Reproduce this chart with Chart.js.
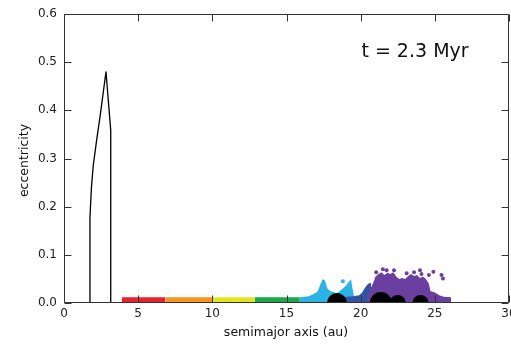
<!DOCTYPE html>
<html>
<head>
<meta charset="utf-8">
<script src="https://cdn.jsdelivr.net/npm/chart.js@4.4.1/dist/chart.umd.min.js"></script>
<style>
  html, body { margin: 0; padding: 0; background: #fff; }
</style>
</head>
<body>
<canvas id="grafico" width="511" height="345"></canvas>
<script>
// ticks
const xTicks = [0, 5, 10, 15, 20, 25, 30];
const yTicks = [0.0, 0.1, 0.2, 0.3, 0.4, 0.5, 0.6];

// curva negra (a, e)
const curvaA = [1.75, 1.75, 1.85, 1.97, 2.2, 2.43, 2.83, 3.15, 3.15];
const curvaE = [0, 0.178, 0.24, 0.285, 0.338, 0.387, 0.48, 0.359, 0];

// bandas de particulas: borde superior de cada nube
const rojoA = [3.89, 3.89, 6.83, 6.83];
const rojoE = [0, 0.012, 0.012, 0];
const naranjaA = [6.83, 6.83, 10.02, 10.02];
const naranjaE = [0, 0.012, 0.012, 0];
const amarilloA = [10.02, 10.02, 12.87, 12.87];
const amarilloE = [0, 0.012, 0.012, 0];
const verdeA = [12.87, 12.87, 15.9, 15.9];
const verdeE = [0, 0.012, 0.012, 0];
const celesteA = [15.9, 15.9, 16.5, 16.8, 17.1, 17.3, 17.45, 17.6, 17.75, 17.95, 18.4, 18.8, 19.0, 19.2, 19.35, 19.45, 19.55, 19.55];
const celesteE = [0, 0.012, 0.014, 0.018, 0.024, 0.04, 0.05, 0.046, 0.03, 0.025, 0.02, 0.03, 0.036, 0.044, 0.049, 0.03, 0.014, 0];
const azulA = [18.6, 18.6, 19.5, 19.9, 20.1, 20.3, 20.5, 20.7, 20.7];
const azulE = [0, 0.012, 0.014, 0.016, 0.022, 0.032, 0.04, 0.042, 0];
const moradoA = [20.5, 20.5, 20.7, 20.9, 21.0, 21.2, 21.4, 21.6, 21.8, 22.0, 22.2, 22.4, 22.6, 22.8, 23.0, 23.2, 23.4, 23.6, 23.8, 24.0, 24.2, 24.4, 24.6, 24.7, 25.0, 25.3, 25.6, 26.1, 26.1];
const moradoE = [0, 0.015, 0.032, 0.046, 0.055, 0.06, 0.064, 0.058, 0.063, 0.06, 0.064, 0.055, 0.05, 0.052, 0.05, 0.056, 0.06, 0.056, 0.058, 0.052, 0.055, 0.05, 0.04, 0.025, 0.022, 0.016, 0.013, 0.012, 0];

// particulas sueltas
const puntosMoradoA = [21.05, 21.5, 21.75, 22.25, 23.1, 23.6, 24.0, 24.1, 24.9, 25.45, 25.55, 24.6];
const puntosMoradoE = [0.064, 0.07, 0.068, 0.068, 0.062, 0.064, 0.068, 0.06, 0.065, 0.058, 0.051, 0.058];
const puntosCelesteA = [18.8];
const puntosCelesteE = [0.045];

// planetas
const planetasA = [18.4, 21.36, 22.5, 24.04];
const planetasE = [0, 0, 0, 0];

const etiquetaTiempo = "t = 2.3 Myr";
const tituloX = "semimajor axis (au)";
const tituloY = "eccentricity";

function pares(xs, ys) {
  return xs.map((x, i) => ({ x: x, y: ys[i] }));
}

function banda(xs, ys, color, orden) {
  return {
    data: pares(xs, ys),
    showLine: true,
    fill: "origin",
    borderWidth: 0,
    borderColor: color,
    backgroundColor: color,
    pointRadius: 0,
    order: orden
  };
}

const fuente = "'DejaVu Sans', sans-serif";

const marcoPlugin = {
  id: "marco",
  afterDatasetsDraw(chart) {
    const ctx = chart.ctx;
    const area = chart.chartArea;
    const sx = chart.scales.x;
    const sy = chart.scales.y;
    const izq = Math.round(area.left) + 0.5;
    const der = Math.round(area.right) - 0.5;
    const arr = Math.round(area.top) + 0.5;
    const aba = Math.round(area.bottom) - 0.5;
    const largo = 7;

    ctx.save();
    ctx.strokeStyle = "#333";
    ctx.lineWidth = 1;
    ctx.beginPath();
    ctx.rect(izq, arr, der - izq, aba - arr);

    xTicks.forEach(v => {
      const px = Math.round(sx.getPixelForValue(v)) + 0.5;
      ctx.moveTo(px, aba);
      ctx.lineTo(px, aba - largo);
      ctx.moveTo(px, arr);
      ctx.lineTo(px, arr + largo);
    });
    yTicks.forEach(v => {
      const py = Math.round(sy.getPixelForValue(v)) + 0.5;
      ctx.moveTo(izq, py);
      ctx.lineTo(izq + largo, py);
      ctx.moveTo(der, py);
      ctx.lineTo(der - largo, py);
    });
    ctx.stroke();

    // textos
    ctx.fillStyle = "#111";
    ctx.font = "19px " + fuente;
    ctx.textAlign = "center";
    ctx.textBaseline = "alphabetic";
    ctx.fillText(etiquetaTiempo, 415, 57);

    ctx.font = "12.5px " + fuente;
    ctx.fillText(tituloX, 286, 336);

    ctx.translate(28, (area.top + area.bottom) / 2 + 2);
    ctx.rotate(-Math.PI / 2);
    ctx.fillText(tituloY, 0, 0);
    ctx.restore();
  }
};

new Chart(document.getElementById("grafico"), {
  type: "scatter",
  data: {
    datasets: [
      {
        data: pares(planetasA, planetasE),
        pointRadius: [10, 11, 8, 8],
        pointBackgroundColor: "#000",
        pointBorderWidth: 0,
        clip: 0,
        order: 0
      },
      {
        data: pares(curvaA, curvaE),
        showLine: true,
        borderColor: "#000",
        borderWidth: 1.3,
        borderJoinStyle: "round",
        pointRadius: 0,
        fill: false,
        order: 1
      },
      {
        data: pares(puntosCelesteA, puntosCelesteE),
        pointRadius: 2,
        pointBackgroundColor: "#2bb3e6",
        pointBorderWidth: 0,
        order: 2
      },
      {
        data: pares(puntosMoradoA, puntosMoradoE),
        pointRadius: 2,
        pointBackgroundColor: "#6a3f9f",
        pointBorderWidth: 0,
        order: 2
      },
      banda(moradoA, moradoE, "#6a3f9f", 3),
      banda(azulA, azulE, "#3552a5", 4),
      banda(celesteA, celesteE, "#2bb3e6", 5),
      banda(verdeA, verdeE, "#1aa64b", 6),
      banda(amarilloA, amarilloE, "#e2e41c", 6),
      banda(naranjaA, naranjaE, "#f7931e", 6),
      banda(rojoA, rojoE, "#e8222e", 6)
    ]
  },
  options: {
    responsive: false,
    animation: false,
    events: [],
    layout: { autoPadding: false, padding: { top: 14, right: 2, left: 0, bottom: 0 } },
    plugins: {
      legend: { display: false },
      tooltip: { enabled: false }
    },
    scales: {
      x: {
        type: "linear",
        min: 0,
        max: 30,
        afterBuildTicks: s => { s.ticks = xTicks.map(v => ({ value: v })); },
        afterFit: s => { s.height = 42; s.paddingLeft = 0; s.paddingRight = 0; },
        grid: { display: false, drawTicks: false },
        border: { display: false },
        ticks: {
          autoSkip: false,
          maxRotation: 0,
          padding: 4,
          color: "#222",
          font: { family: fuente, size: 12 },
          callback: v => String(v)
        }
      },
      y: {
        type: "linear",
        min: 0,
        max: 0.6,
        afterBuildTicks: s => { s.ticks = yTicks.map(v => ({ value: v })); },
        afterFit: s => { s.width = 64; s.paddingTop = 0; s.paddingBottom = 0; },
        grid: { display: false, drawTicks: false },
        border: { display: false },
        ticks: {
          autoSkip: false,
          padding: 7,
          color: "#222",
          font: { family: fuente, size: 12 },
          callback: v => v.toFixed(1)
        }
      }
    }
  },
  plugins: [marcoPlugin]
});
</script>
</body>
</html>
